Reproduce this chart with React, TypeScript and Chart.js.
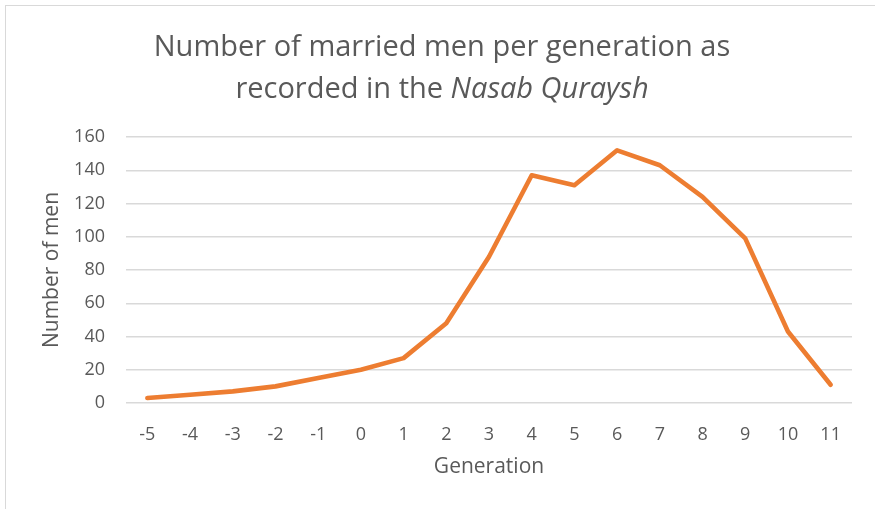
import React, { useEffect, useRef } from "react";
import { Chart, registerables } from "chart.js";

Chart.register(...registerables);

const generations = ["-5", "-4", "-3", "-2", "-1", "0", "1", "2", "3", "4", "5", "6", "7", "8", "9", "10", "11"];
const marriedMen = [3, 5, 7, 10, 15, 20, 27, 48, 88, 137, 131, 152, 143, 124, 99, 43, 11];
const yMin = 0;
const yMax = 160;
const yStep = 20;

const titleLine1 = "Number of married men per generation as";
const titleLine2Plain = "recorded in the ";
const titleLine2Italic = "Nasab Quraysh";
const xTitle = "Generation";
const yTitle = "Number of men";

const TEXT = "#595959";
const GRID = "#d9d9d9";
const LINE = "#ED7D31";
const FONT = '"Open Sans", "DejaVu Sans", sans-serif';

const titlePlugin = {
  id: "mixedTitle",
  afterDraw(chart: any) {
    const ctx = chart.ctx;
    const cx = 442;
    ctx.save();
    ctx.fillStyle = TEXT;
    ctx.textBaseline = "alphabetic";
    ctx.font = `29px ${FONT}`;
    ctx.textAlign = "center";
    ctx.fillText(titleLine1, cx, 56);
    ctx.textAlign = "left";
    const wPlain = ctx.measureText(titleLine2Plain).width;
    ctx.font = `italic 29px ${FONT}`;
    const wItal = ctx.measureText(titleLine2Italic).width;
    const start = cx - (wPlain + wItal) / 2;
    ctx.font = `29px ${FONT}`;
    ctx.fillText(titleLine2Plain, start, 97.5);
    ctx.font = `italic 29px ${FONT}`;
    ctx.fillText(titleLine2Italic, start + wPlain, 97.5);
    ctx.restore();
  },
};

export default function App() {
  const ref = useRef<HTMLCanvasElement | null>(null);

  useEffect(() => {
    if (!ref.current) return;
    const chart = new Chart(ref.current, {
      type: "line",
      data: {
        labels: generations,
        datasets: [
          {
            data: marriedMen,
            borderColor: LINE,
            backgroundColor: LINE,
            borderWidth: 4.6,
            pointRadius: 0,
            tension: 0,
            borderCapStyle: "round",
            borderJoinStyle: "round",
          },
        ],
      },
      options: {
        animation: false,
        responsive: false,
        layout: { padding: { top: 137, right: 23, left: 0, bottom: 0 } },
        plugins: {
          legend: { display: false },
          tooltip: { enabled: false },
          title: { display: false },
        },
        scales: {
          x: {
            type: "category",
            offset: true,
            grid: { display: false },
            border: { display: false },
            ticks: {
              color: TEXT,
              font: { family: FONT, size: 18 },
              padding: 13,
              maxRotation: 0,
              autoSkip: false,
            },
            title: {
              display: true,
              text: xTitle,
              color: TEXT,
              font: { family: FONT, size: 21 },
              padding: { top: 0, bottom: 29 },
            },
            afterFit(scale: any) {
              scale.height = 106;
            },
          },
          y: {
            min: yMin,
            max: yMax,
            grid: { color: GRID, lineWidth: 1.4, drawTicks: false },
            border: { display: false },
            ticks: {
              stepSize: yStep,
              color: TEXT,
              font: { family: FONT, size: 18 },
              padding: 21,
            },
            title: {
              display: true,
              text: yTitle,
              color: TEXT,
              font: { family: FONT, size: 21 },
              padding: { top: 39, bottom: 0 },
            },
            afterFit(scale: any) {
              scale.width = 126;
            },
          },
        },
      },
      plugins: [titlePlugin],
    } as any);
    return () => chart.destroy();
  }, []);

  return (
    <div
      style={{
        position: "fixed",
        left: 0,
        top: 0,
        width: 875,
        height: 509,
        overflow: "hidden",
        background: "#ffffff",
      }}
    >
      <div
        style={{
          position: "absolute",
          left: 5,
          top: 5,
          width: 1000,
          height: 1000,
          borderTop: `1px solid ${GRID}`,
          borderLeft: `1px solid ${GRID}`,
        }}
      />
      <canvas
        ref={ref}
        width={875}
        height={509}
        style={{ position: "absolute", left: 0, top: 0, width: 875, height: 509 }}
      />
    </div>
  );
}
